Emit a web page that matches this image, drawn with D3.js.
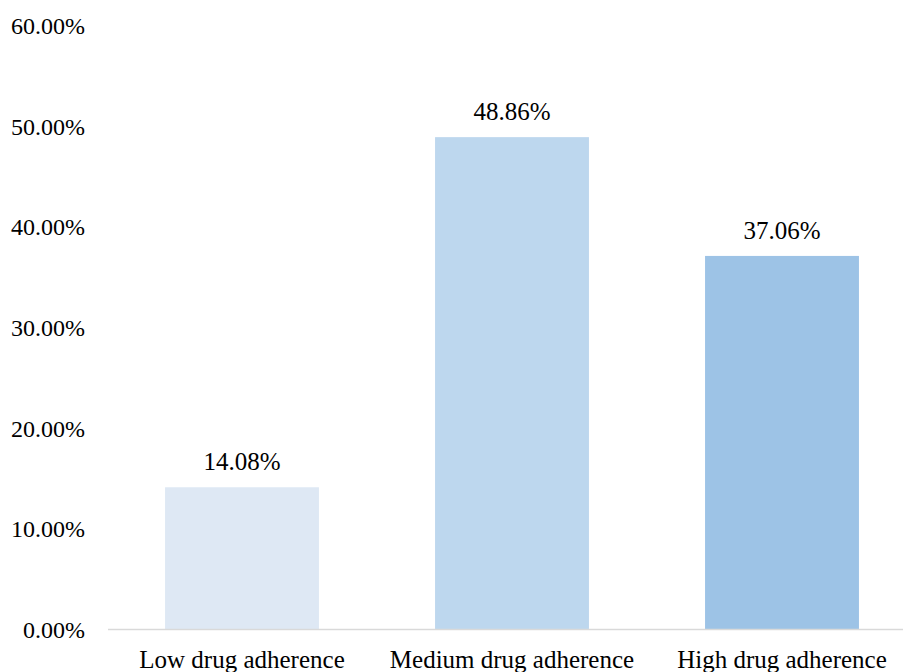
<!DOCTYPE html>
<html>
<head>
<meta charset="utf-8">
<script src="https://cdn.jsdelivr.net/npm/d3@7"></script>
<style>
  html, body { margin: 0; padding: 0; background: #fff; }
  svg { display: block; }
  text { font-family: "Liberation Serif", serif; fill: #000; }
</style>
</head>
<body>
<svg id="chart" width="903" height="672"></svg>
<script>
const categories = ["Low drug adherence", "Medium drug adherence", "High drug adherence"];
const values = [14.08, 48.86, 37.06];
const colors = ["#DEE8F4", "#BDD7EE", "#9DC3E6"];
const yTicks = [0, 10, 20, 30, 40, 50, 60];

const svg = d3.select("#chart");
const fontSize = 24;

const x = d3.scaleBand().domain(categories).range([107, 917]).paddingInner(0.43).paddingOuter(0.215);
const y = d3.scaleLinear().domain([0, 60]).range([629, 25]);

// y tick labels
svg.append("g").selectAll("text").data(yTicks).join("text")
  .attr("x", 85)
  .attr("y", d => y(d))
  .attr("dy", "0.38em")
  .attr("text-anchor", "end")
  .style("font-size", fontSize + "px")
  .text(d => d.toFixed(2) + "%");

// bars
svg.append("g").selectAll("rect").data(values).join("rect")
  .attr("x", (d, i) => x(categories[i]))
  .attr("width", x.bandwidth())
  .attr("y", d => y(d))
  .attr("height", d => y(0) - y(d))
  .attr("fill", (d, i) => colors[i]);

// x axis line
svg.append("line")
  .attr("x1", 108).attr("x2", 903)
  .attr("y1", y(0) + 0.5).attr("y2", y(0) + 0.5)
  .attr("stroke", "#D9D9D9").attr("stroke-width", 1.5);

// data labels
svg.append("g").selectAll("text").data(values).join("text")
  .attr("x", (d, i) => x(categories[i]) + x.bandwidth() / 2)
  .attr("y", d => y(d) - 17)
  .attr("text-anchor", "middle")
  .style("font-size", "25px")
  .text(d => d.toFixed(2) + "%");

// category labels
svg.append("g").selectAll("text").data(categories).join("text")
  .attr("x", d => x(d) + x.bandwidth() / 2)
  .attr("y", 668)
  .attr("text-anchor", "middle")
  .style("font-size", "25px")
  .text(d => d);
</script>
</body>
</html>
